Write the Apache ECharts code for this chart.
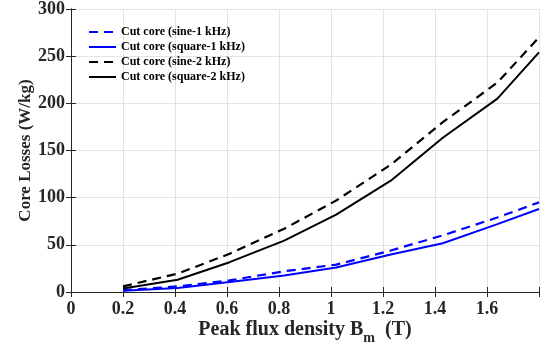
<!DOCTYPE html>
<html>
<head>
<meta charset="utf-8">
<script src="https://cdn.jsdelivr.net/npm/echarts@6/dist/echarts.min.js"></script>
<style>html,body{margin:0;padding:0;background:#fff}#c{width:542px;height:356px}</style>
</head>
<body>
<div id="c"></div>
<script>
var fluxB = [0.2, 0.41, 0.61, 0.82, 1.02, 1.23, 1.43, 1.64, 1.8];
var sine1k   = [1.8, 6, 12.3, 22, 29, 44, 60, 79, 95];
var square1k = [1.2, 4.2, 10.6, 17.6, 26, 39.8, 51.7, 72, 88];
var sine2k   = [6, 19.4, 40.5, 67, 97, 135, 180, 222, 270];
var square2k = [3.6, 13, 31.6, 54.5, 82, 118, 163.5, 205, 254];
var seriesNames = ['Cut core (sine-1 kHz)', 'Cut core (square-1 kHz)', 'Cut core (sine-2 kHz)', 'Cut core (square-2 kHz)'];
var xTicks = [0, 0.2, 0.4, 0.6, 0.8, 1, 1.2, 1.4, 1.6];
var yTicks = [0, 50, 100, 150, 200, 250, 300];

function pairs(ys){ return fluxB.map(function(x,i){ return [x, ys[i]]; }); }
var FF = '"Liberation Serif", "Times New Roman", serif';
var chart = echarts.init(document.getElementById('c'));
var axisLine = {show:true, lineStyle:{color:'#262626', width:1}};
var tickStyle = {show:true, inside:true, length:5, lineStyle:{color:'#262626'}};
chart.setOption({
  animation:false,
  grid:{left:71, right:3, top:8, bottom:64, containLabel:false},
  legend:{
    left:83, top:21, orient:'vertical', itemWidth:27, itemHeight:12, itemGap:3,
    itemStyle:{opacity:0},
    textStyle:{fontFamily:FF, fontWeight:'bold', fontSize:12, color:'#000'},
    data:seriesNames
  },
  xAxis:[{
    type:'value', min:0, max:1.8, interval:0.2,
    name:'Peak flux density B{sub|m}  (T)', nameLocation:'middle', nameGap:23,
    nameMoveOverlap:false,
    nameTextStyle:{fontFamily:FF, fontWeight:'bold', fontSize:20, color:'#262626',
      rich:{sub:{fontFamily:FF, fontWeight:'bold', fontSize:14, color:'#262626', padding:[16,0,0,0]}}},
    axisLine:axisLine, axisTick:tickStyle,
    axisLabel:{fontFamily:FF, fontWeight:'bold', fontSize:18, color:'#262626', margin:8,
      formatter:function(v){ var r=Math.round(v*10)/10; return xTicks.indexOf(r)>=0 ? String(r) : ''; }},
    splitLine:{show:true, lineStyle:{color:'#e3e3e3', width:1}}
  },{
    type:'value', position:'top', min:0, max:1.8, interval:0.2,
    axisLine:axisLine, axisTick:tickStyle, axisLabel:{show:false}, splitLine:{show:false}
  }],
  yAxis:[{
    type:'value', min:0, max:300, interval:50,
    name:'Core Losses (W/kg)', nameLocation:'middle', nameGap:37,
    nameMoveOverlap:false,
    nameTextStyle:{fontFamily:FF, fontWeight:'bold', fontSize:17, color:'#262626'},
    axisLine:axisLine, axisTick:tickStyle,
    axisLabel:{fontFamily:FF, fontWeight:'bold', fontSize:18, color:'#262626', margin:6,
      formatter:function(v){ return yTicks.indexOf(v)>=0 ? String(v) : ''; }},
    splitLine:{show:true, lineStyle:{color:'#e3e3e3', width:1}}
  },{
    type:'value', position:'right', min:0, max:300, interval:50,
    axisLine:axisLine, axisTick:tickStyle, axisLabel:{show:false}, splitLine:{show:false}
  }],
  series:[
    {name:seriesNames[0], type:'line', data:pairs(sine1k), symbol:'none',
     lineStyle:{color:'#0000ff', width:2.2, type:[9,6]}, itemStyle:{color:'#0000ff'}},
    {name:seriesNames[1], type:'line', data:pairs(square1k), symbol:'none',
     lineStyle:{color:'#0000ff', width:2}, itemStyle:{color:'#0000ff'}},
    {name:seriesNames[2], type:'line', data:pairs(sine2k), symbol:'none',
     lineStyle:{color:'#000000', width:2.2, type:[9,6]}, itemStyle:{color:'#000000'}},
    {name:seriesNames[3], type:'line', data:pairs(square2k), symbol:'none',
     lineStyle:{color:'#000000', width:2}, itemStyle:{color:'#000000'}}
  ]
});
</script>
</body>
</html>
